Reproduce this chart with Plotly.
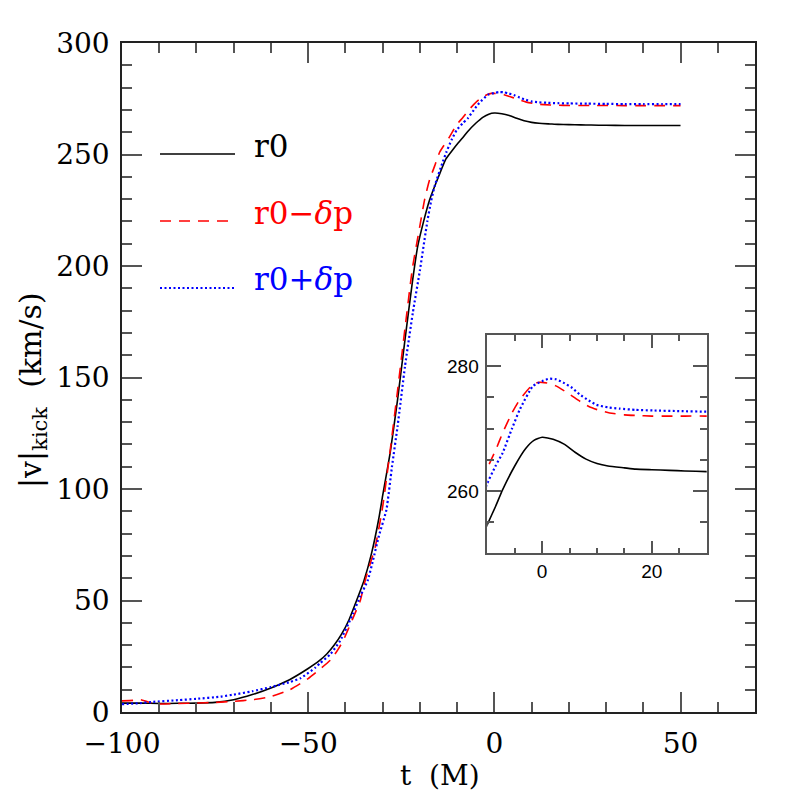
import plotly.graph_objects as go

# ---- data ----
t_r0 = [-100, -95, -90, -85, -80, -75, -70, -65, -60, -55, -50, -47, -45, -43, -41, -39, -37, -35, -33, -31,
        -30, -28, -26, -24, -22, -20.6, -19, -17.4, -15, -13, -11, -10, -8.5, -7.2, -5, -3, -1.5, 0, 2, 4,
        6, 8, 10, 12, 15, 17.1, 20, 23.2, 26, 30, 35, 40, 45, 50]
v_r0 = [4.0, 4.0, 3.8, 3.9, 4.0, 4.3, 5.5, 7.8, 10.8, 14.5, 19.5, 23, 26, 30, 35, 41.5, 50, 59, 71, 87,
        97, 116, 140, 167, 193, 208.7, 220, 229.6, 240, 248, 252.5, 254.6, 257.5, 260.2, 264, 266.8, 268.1, 268.6, 268.3, 267.5,
        266.2, 265.1, 264.4, 264.0, 263.7, 263.5, 263.4, 263.3, 263.2, 263.1, 263.0, 263.0, 263.0, 263.0]

t_minus = [-100, -97, -95, -93, -90, -85, -80, -75, -70, -65, -60, -55, -50, -47, -44, -42, -40.6, -38, -36, -35,
           -34, -32, -30, -28, -26, -24, -22, -20, -18.7, -17.4, -16, -14.7, -12, -10.1, -8.5, -7.2, -5.5, -4.1, -2,
           -0.8, 0, 1.5, 2.6, 5, 7, 8.6, 10.5, 12.3, 15, 17.1, 20, 23, 26, 30, 35, 40, 45, 50]
v_minus = [5.0, 5.2, 5.5, 4.5, 3.6, 3.8, 4.0, 4.3, 4.8, 5.5, 6.9, 9.9, 15, 19, 23.3, 28, 32, 42, 50, 57,
           63, 74, 92, 117, 144, 172, 199, 218, 230, 238.6, 245, 251, 258, 263.4, 266.5, 269.3, 272.5, 274.6, 276.8,
           277.4, 277.4, 277.2, 276.8, 275.5, 274.3, 273.5, 272.9, 272.5, 272.2, 272.1, 272.0, 272.0, 272.0, 272.0, 271.9, 271.9, 271.9, 271.9]

t_plus = [-100, -95, -92, -85, -80, -73.5, -70, -65, -60, -55, -52, -48, -46.8, -44, -41.4, -38, -36, -34, -32.6,
          -31, -29, -27.5, -26, -24, -21.9, -20, -18, -17, -16, -14, -12.9, -11.5, -10.1, -8.5, -7.2, -5.5, -4.1, -1.7,
          0, 1.3, 2.5, 3.8, 5.5, 6.8, 8.5, 9.9, 12, 14.1, 17, 20.2, 25, 30, 35, 40, 45, 50]
v_plus = [3.5, 4.0, 4.5, 5.3, 5.9, 6.9, 7.8, 9.3, 11.2, 13.4, 15.2, 20, 21.9, 26, 32, 44, 52, 59, 68,
          79, 90.6, 110, 128, 155, 179, 198, 220, 229, 236, 246, 251, 256.5, 261, 264, 266.1, 270, 273, 276.8,
          277.6, 278, 277.9, 277.4, 276.5, 275.5, 274.5, 273.8, 273.4, 273.2, 273.0, 272.9, 272.8, 272.7, 272.6, 272.6, 272.6, 272.6]

series_names = ["r0", "r0\u2212<i>\u03b4</i>p", "r0+<i>\u03b4</i>p"]
series_colors = ["#000000", "#ff0000", "#0000ff"]

x_main_ticks = [-100, -50, 0, 50]
y_main_ticks = [0, 50, 100, 150, 200, 250, 300]
x_inset_ticks = [0, 20]
y_inset_ticks = [260, 280]

# ---- layout helpers (page body has an 8px offset) ----
OFF = 8
W = H = 797 - OFF
L, R, T, B = 122, 755, 43, 712  # target plot box in page pixels


def px(xp):
    return (xp - L) / (R - L)


def py(yp):
    return (B - yp) / (B - T)


fig = go.Figure()

series = [(t_r0, v_r0), (t_minus, v_minus), (t_plus, v_plus)]
styles = [dict(width=1.6, dash="solid"), dict(width=1.6, dash="11px,8px"), dict(width=2.2, dash="2px,2.5px")]

for ax in [("x", "y"), ("x2", "y2")]:
    for (tx, vy), name, col, st in zip(series, series_names, series_colors, styles):
        fig.add_trace(go.Scatter(x=tx, y=vy, mode="lines", name=name, showlegend=False,
                                 line=dict(color=col, width=st["width"], dash=st["dash"], shape="spline", smoothing=0.5),
                                 xaxis=ax[0], yaxis=ax[1]))

tickfont_main = dict(family="DejaVu Serif", size=28, color="#000")
frame_col = "#222"
tick_col = "#555"

fig.update_layout(
    width=W, height=H,
    margin=dict(l=L - OFF, r=797 - R, t=T - OFF, b=797 - B, autoexpand=False),
    paper_bgcolor="white", plot_bgcolor="white",
    xaxis=dict(domain=[0, 1], range=[-100, 70], tickvals=x_main_ticks, ticks="inside", ticklen=20,
               tickwidth=1.5, tickcolor=tick_col, showline=True, linecolor=frame_col, linewidth=1.5,
               mirror="ticks", showgrid=False, zeroline=False, tickfont=tickfont_main, ticklabelstandoff=6,
               automargin=False,
               minor=dict(dtick=10, tick0=0, ticks="inside", ticklen=10, tickwidth=1.5, tickcolor=tick_col, showgrid=False)),
    yaxis=dict(domain=[0, 1], range=[0, 300], tickvals=y_main_ticks, ticks="inside", ticklen=20,
               tickwidth=1.5, tickcolor=tick_col, showline=True, linecolor=frame_col, linewidth=1.5,
               mirror="ticks", showgrid=False, zeroline=False, tickfont=tickfont_main, ticklabelstandoff=5,
               automargin=False,
               minor=dict(dtick=10, tick0=0, ticks="inside", ticklen=10, tickwidth=1.5, tickcolor=tick_col, showgrid=False)),
    xaxis2=dict(domain=[px(487.3), px(706.7)], anchor="y2", range=[-10, 30],
                tickvals=x_inset_ticks, ticks="inside", ticklen=13, tickwidth=1.5, tickcolor=tick_col,
                showline=True, linecolor="#555", linewidth=1.5, mirror="ticks", showgrid=False, zeroline=False,
                tickfont=dict(family="Liberation Sans", size=19, color="#000"), automargin=False,
                minor=dict(dtick=5, tick0=0, ticks="inside", ticklen=6, tickwidth=1.5, tickcolor=tick_col, showgrid=False)),
    yaxis2=dict(domain=[py(553.3), py(335)], anchor="x2", range=[250, 285],
                tickvals=y_inset_ticks, ticks="inside", ticklen=14, tickwidth=1.5, tickcolor=tick_col,
                showline=True, linecolor="#555", linewidth=1.5, mirror="ticks", showgrid=False, zeroline=False,
                tickfont=dict(family="Liberation Sans", size=19, color="#000"), ticklabelstandoff=3, automargin=False,
                minor=dict(dtick=5, tick0=250, ticks="inside", ticklen=7, tickwidth=1.5, tickcolor=tick_col, showgrid=False)),
)

# legend (drawn manually as in the reference)
leg_y = [154, 221, 288]
leg_text_y = [146, 213, 279]
leg_dash = ["solid", "11px,8px", "2px,2.5px"]
leg_w = [1.6, 1.6, 2.2]
for i in range(3):
    fig.add_shape(type="line", xref="paper", yref="paper", x0=px(160), x1=px(235), y0=py(leg_y[i]), y1=py(leg_y[i]),
                  line=dict(color=series_colors[i], width=leg_w[i], dash=leg_dash[i]))
    fig.add_annotation(xref="paper", yref="paper", x=px(252), y=py(leg_text_y[i]), xanchor="left", yanchor="middle",
                       text=series_names[i], showarrow=False,
                       font=dict(family="DejaVu Serif", size=31, color=series_colors[i]))

# axis titles
fig.add_annotation(xref="paper", yref="paper", x=px(440), y=py(775), xanchor="center", yanchor="middle",
                   text="t\u00a0\u00a0(M)", showarrow=False, font=dict(family="DejaVu Serif", size=28, color="#000"))
fig.add_annotation(xref="paper", yref="paper", x=px(32), y=py(390), xanchor="center", yanchor="middle",
                   text="|v|<sub>kick</sub>\u00a0\u00a0(km/s)", textangle=-90, showarrow=False,
                   font=dict(family="DejaVu Serif", size=30, color="#000"))

fig.write_html("out.html")
